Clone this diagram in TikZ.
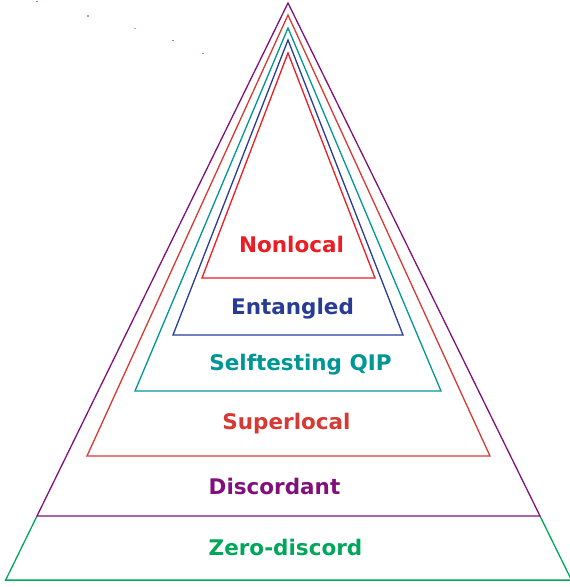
\documentclass[tikz,border=0pt]{standalone}
\usepackage{fontspec}
\setmainfont{DejaVu Sans}
\usetikzlibrary{calc}
\definecolor{colZero}{RGB}{0,166,90}
\definecolor{colDisc}{RGB}{128,16,122}
\definecolor{colSuper}{RGB}{214,58,52}
\definecolor{colSelf}{RGB}{0,150,150}
\definecolor{colEnt}{RGB}{40,60,150}
\definecolor{colNonloc}{RGB}{236,28,36}
\tikzstyle{setline} = [line width=1.3pt, line join=miter]
\tikzstyle{setlabel} = [font=\bfseries\fontsize{21.5}{25}\selectfont, inner sep=0, anchor=base]
\tikzstyle{speck} = [inner sep=0, minimum size=1.6pt, fill, opacity=0.6]

\begin{document}
\begin{tikzpicture}[x=1pt, y=-1pt]
    \useasboundingbox (0,0) rectangle (570,587);
    % corners of the nested sets
    \coordinate (disc_top) at (288,3);
    \coordinate (disc_left) at (37,516);
    \coordinate (disc_right) at (540,516);
    \coordinate (zero_left) at ($(disc_top)!1.125!(disc_left)$);
    \coordinate (zero_right) at ($(disc_top)!1.125!(disc_right)$);
    \coordinate (super_top) at (288,15);
    \coordinate (super_left) at (87,456);
    \coordinate (super_right) at (490,456);
    \coordinate (self_top) at (288,28);
    \coordinate (self_left) at (135,391);
    \coordinate (self_right) at (441,391);
    \coordinate (ent_top) at (288,40);
    \coordinate (ent_left) at (173,335);
    \coordinate (ent_right) at (403,335);
    \coordinate (nonloc_top) at (288,53);
    \coordinate (nonloc_left) at (202,278);
    \coordinate (nonloc_right) at (375,278);
    \draw[setline, colZero] (disc_left) -- (zero_left) -- (zero_right) -- (disc_right);
    \draw[setline, colDisc] (disc_top) -- (disc_left) -- (disc_right) -- cycle;
    \draw[setline, colSuper] (super_top) -- (super_left) -- (super_right) -- cycle;
    \draw[setline, colSelf] (self_top) -- (self_left) -- (self_right) -- cycle;
    \draw[setline, colEnt] (ent_top) -- (ent_left) -- (ent_right) -- cycle;
    \draw[setline, colNonloc] (nonloc_top) -- (nonloc_left) -- (nonloc_right) -- cycle;
    % labels
    \node[setlabel, colNonloc] (nonloc_lbl) at (291.5,252) {Nonlocal};
    \node[setlabel, colEnt] (ent_lbl) at (292.5,314) {Entangled};
    \node[setlabel, colSelf] (self_lbl) at (300.5,370) {Selftesting QIP};
    \node[setlabel, colSuper] (super_lbl) at (286.5,429.5) {Superlocal};
    \node[setlabel, colDisc] (disc_lbl) at (274.5,494) {Discordant};
    \node[setlabel, colZero] (zero_lbl) at (285.5,555) {Zero-discord};
    % stray marks
    \node[speck, colDisc] (disc_speck) at (37,1.5) {};
    \node[speck, colSuper] (super_speck) at (88,16) {};
    \node[speck, colSelf] (self_speck) at (135,28.5) {};
    \node[speck, colEnt] (ent_speck) at (173,40.5) {};
    \node[speck, colNonloc] (nonloc_speck) at (203,53.5) {};
\end{tikzpicture}
\end{document}
